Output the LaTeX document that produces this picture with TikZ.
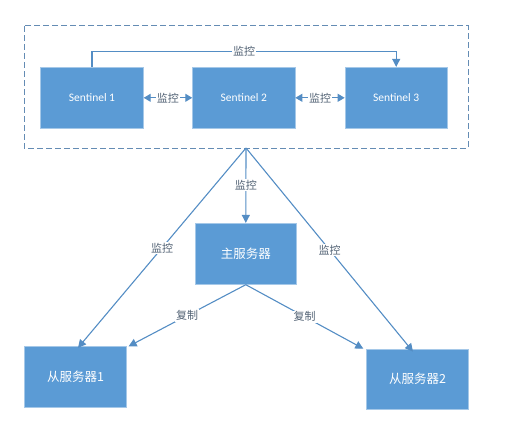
\documentclass[tikz,border=0pt]{standalone}
\usepackage{fontspec}
\setmainfont{Carlito}
\newfontfamily\cjk{Noto Sans CJK SC}
\usetikzlibrary{arrows.meta}
\definecolor{boxblue}{RGB}{91,155,213}
\definecolor{lineblue}{RGB}{84,141,196}
\definecolor{labgray}{RGB}{84,100,118}
\definecolor{dashblue}{RGB}{100,140,180}
\begin{document}
\begin{tikzpicture}[x=1pt,y=-1pt,
 box/.style={fill=boxblue, draw=boxblue!55!white, line width=0.8pt, text=white, inner sep=0pt},
 sent/.style={box, font=\fontsize{11.5}{13}\selectfont},
 srv/.style={box, font=\cjk\fontsize{12.5}{14}\selectfont},
 conn/.style={draw=lineblue, line width=1.1pt, -{Triangle[length=8pt,width=8pt]}},
 dconn/.style={draw=lineblue, line width=1.1pt, {Triangle[length=7pt,width=8pt]}-{Triangle[length=7pt,width=8pt]}},
 lab/.style={fill=white, text=labgray, inner sep=1pt, font=\cjk\fontsize{11}{12}\selectfont}]
\useasboundingbox (0,0) rectangle (508,428);
\draw[dashblue, line width=1pt, dash pattern=on 6pt off 3pt] (24,26) rectangle (468,148);
\node[sent, minimum width=102.6, minimum height=61] (s1) at (92,97.8) {Sentinel 1};
\node[sent, minimum width=102.3, minimum height=61] (s2) at (243.8,97.8) {Sentinel 2};
\node[sent, minimum width=102.3, minimum height=61] (s3) at (396.2,97.8) {Sentinel 3};
\node[srv, minimum width=101.7, minimum height=61] (m) at (245.8,253.8) {主服务器};
\node[srv, minimum width=102.4, minimum height=60.6] (sl1) at (75.5,377) {从服务器1};
\node[srv, minimum width=101.6, minimum height=60.3] (sl2) at (417.5,379.2) {从服务器2};
\coordinate (apex) at (246,148);
\coordinate (tl) at (92,51.7);
\coordinate (tr) at (396.2,51.7);
\draw[conn] (s1.north) -- (tl) -- node[lab]{监控} (tr) -- (s3.north);
\draw[dconn] (s1.east) -- node[lab]{监控} (s2.west);
\draw[dconn] (s2.east) -- node[lab]{监控} (s3.west);
\draw[conn] (apex) -- node[lab]{监控} (m.north);
\draw[conn] (apex) -- node[lab]{监控} ([xshift=2.5pt,yshift=-1.5pt]sl1.north);
\draw[conn] (apex) -- node[lab]{监控} ([xshift=-4.5pt,yshift=-3pt]sl2.north);
\draw[conn] (m.south) -- node[lab]{复制} ([xshift=1.5pt]sl1.north east);
\draw[conn] (m.south) -- node[lab]{复制} ([xshift=-3pt]sl2.north west);
\end{tikzpicture}
\end{document}
